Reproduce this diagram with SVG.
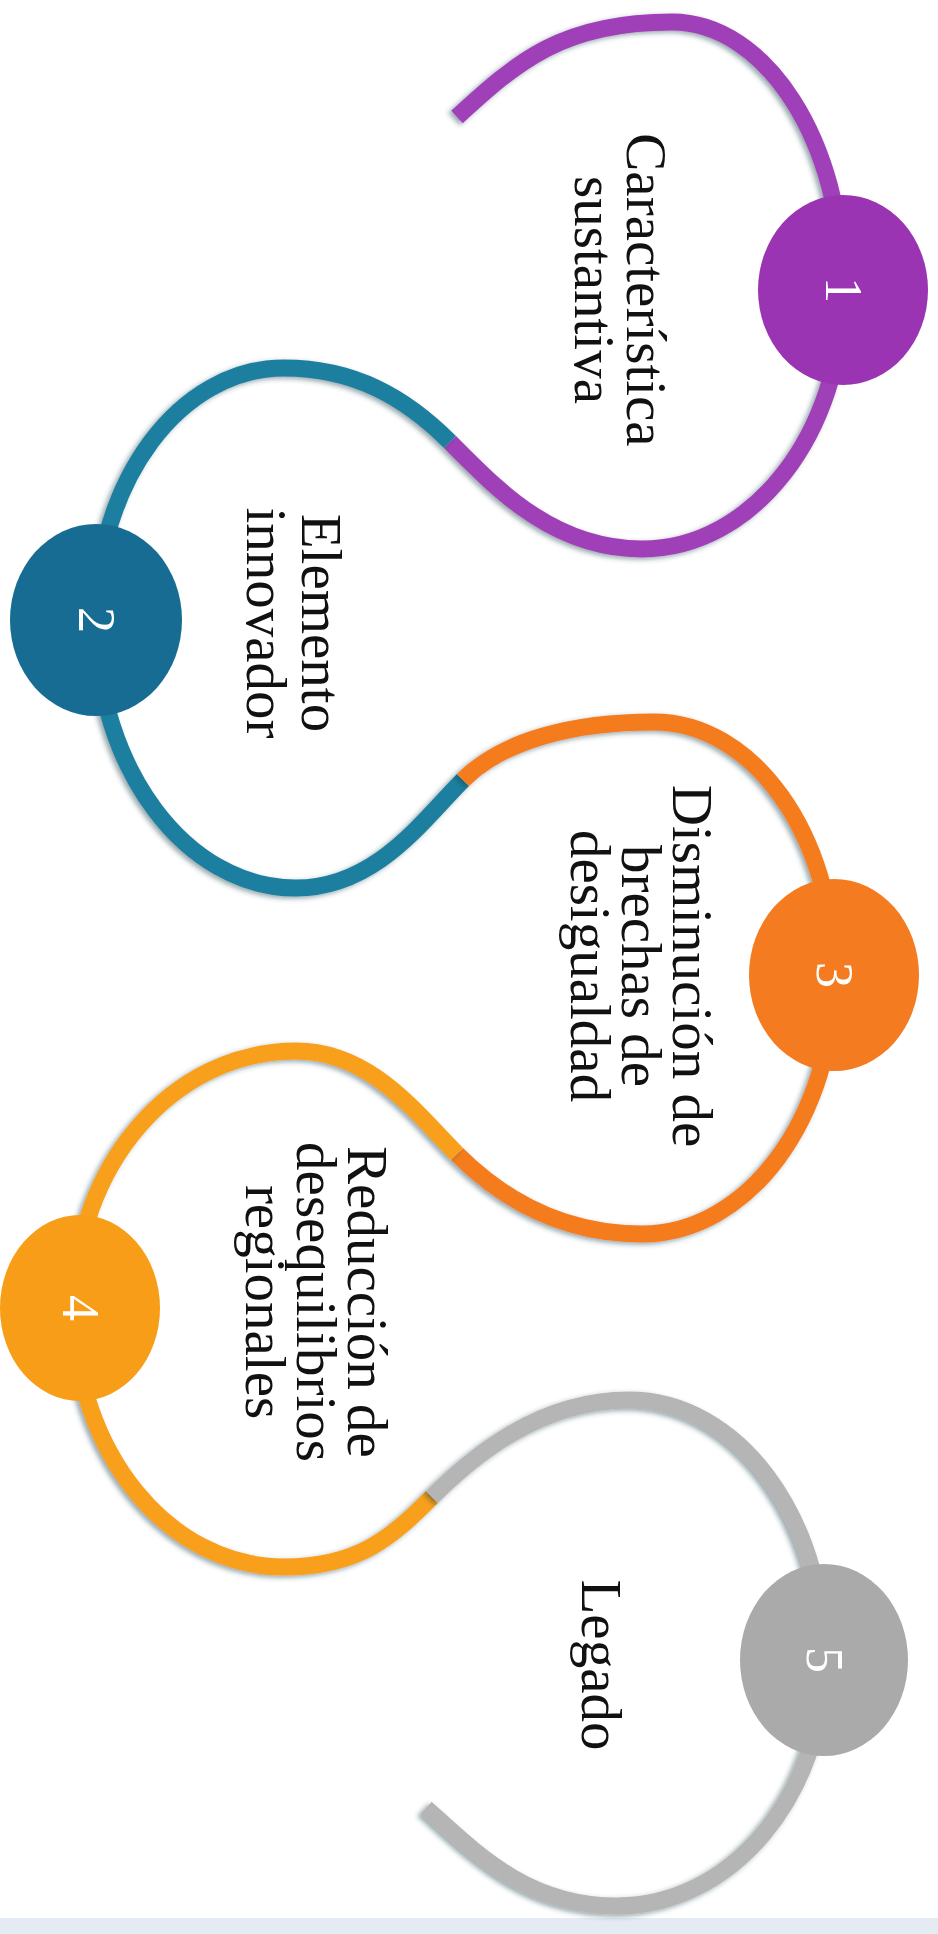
<svg xmlns="http://www.w3.org/2000/svg" width="938" height="1934" viewBox="0 0 938 1934">
<defs>
<style>
.ln{fill:none;stroke-width:17;stroke-linecap:butt;filter:url(#sh)}
.lbl{font-family:"Liberation Serif","Times New Roman",serif;font-size:57px;fill:#111;text-anchor:middle}
.num{font-family:"Liberation Serif","Times New Roman",serif;font-size:52px;fill:#fff;text-anchor:middle}
</style>
<filter id="sh" x="-20%" y="-20%" width="140%" height="140%">
<feDropShadow dx="-3" dy="2" stdDeviation="2.5" flood-color="#1d3a44" flood-opacity="0.45"/>
</filter>
</defs>
<rect width="938" height="1934" fill="#fff"/>
<rect x="0" y="1918" width="938" height="16" fill="#e4ebf3"/>
<g id="connectors">
<path class="ln" stroke="#a041b8" d="M457,117 C517,62 562,22 672,22 C766,22 843,142 843,290 C843,433 753,549 642,549 C552,549 495,487 450,442"/>
<path class="ln" stroke="#1f7fa0" d="M450,442 C405,397 354,368 284,368 C180,368 96,481 96,620 C96,768 186,888 296,888 C376,888 423,820 463,780"/>
<path class="ln" stroke="#f57c1f" d="M463,780 C503,740 574,722 654,722 C753,722 834,835 834,975 C834,1118 748,1234 642,1234 C557,1234 497,1194 457,1154"/>
<path class="ln" stroke="#f8a01a" d="M457,1154 C417,1114 371,1051 296,1051 C173,1051 74,1166 74,1308 C74,1451 168,1567 284,1567 C359,1567 392,1537 432,1497"/>
<path class="ln" stroke="#b5b5b5" d="M432,1497 C472,1457 539,1400 629,1400 C737,1400 824,1516 824,1660 C824,1796 731,1906 617,1906 C527,1906 476,1853 426,1808"/>
</g>
<g id="node1">
<ellipse cx="843" cy="290" rx="85" ry="95" fill="#9b34b2"/>
<text class="num" transform="translate(826,290) rotate(90)">1</text>
<text class="lbl" transform="translate(627,290) rotate(90)">Característica</text>
<text class="lbl" transform="translate(575,290) rotate(90)">sustantiva</text>
</g>
<g id="node2">
<ellipse cx="96" cy="620" rx="86" ry="96" fill="#176c94"/>
<text class="num" transform="translate(79,620) rotate(90)">2</text>
<text class="lbl" transform="translate(302,623) rotate(90)">Elemento</text>
<text class="lbl" transform="translate(247,623) rotate(90)">innovador</text>
</g>
<g id="node3">
<ellipse cx="834" cy="975" rx="85" ry="96" fill="#f47b1f"/>
<text class="num" transform="translate(817,975) rotate(90)">3</text>
<text class="lbl" transform="translate(673,966) rotate(90)">Disminución de</text>
<text class="lbl" transform="translate(622,966) rotate(90)">brechas de</text>
<text class="lbl" transform="translate(571,966) rotate(90)">desigualdad</text>
</g>
<g id="node4">
<ellipse cx="80" cy="1308" rx="80" ry="93" fill="#f79d17"/>
<text class="num" transform="translate(63,1308) rotate(90)">4</text>
<text class="lbl" transform="translate(348,1302) rotate(90)">Reducción de</text>
<text class="lbl" transform="translate(297,1302) rotate(90)">desequilibrios</text>
<text class="lbl" transform="translate(246,1302) rotate(90)">regionales</text>
</g>
<g id="node5">
<ellipse cx="824" cy="1660" rx="84" ry="96" fill="#aaaaaa"/>
<text class="num" transform="translate(807,1660) rotate(90)">5</text>
<text class="lbl" transform="translate(582,1665) rotate(90)">Legado</text>
</g>
</svg>
